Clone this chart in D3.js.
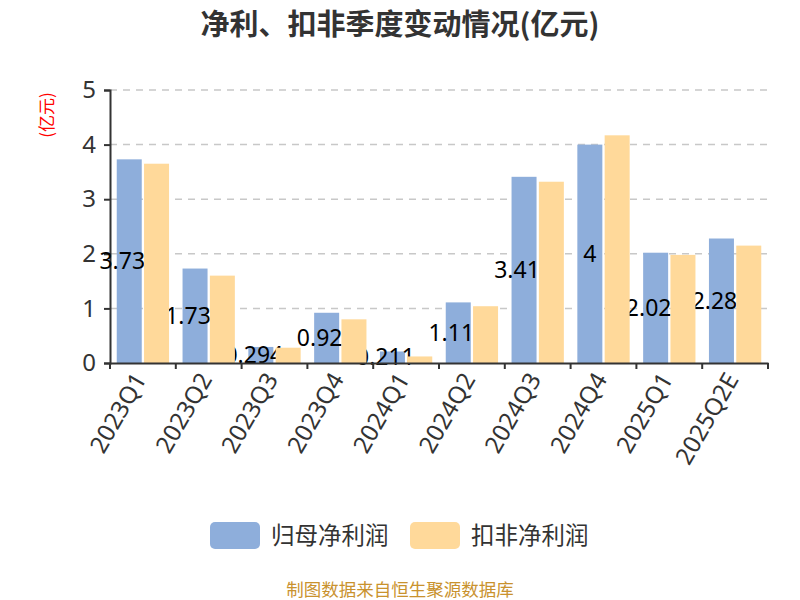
<!DOCTYPE html>
<html>
<head>
<meta charset="utf-8">
<script src="https://cdn.jsdelivr.net/npm/d3@7"></script>
<style>
  body { margin: 0; background: #fff; }
  svg { font-family: "Noto Sans CJK SC", "Noto Sans", sans-serif; }
</style>
</head>
<body>
<svg id="board" width="800" height="600"></svg>
<script>
let categories = ['2023Q1', '2023Q2', '2023Q3', '2023Q4', '2024Q1', '2024Q2', '2024Q3', '2024Q4', '2025Q1', '2025Q2E']
let netProfit = [3.73, 1.73, 0.294, 0.92, 0.211, 1.11, 3.41, 4, 2.02, 2.28]
let deducted = [3.65, 1.60, 0.28, 0.80, 0.12, 1.04, 3.32, 4.17, 1.98, 2.15]
let yTicks = [0, 1, 2, 3, 4, 5]
let seriesNames = ['归母净利润', '扣非净利润']
let colors = ['#8eaedb', '#ffd99a']

let board = d3.select('#board')

let plotLeft = 110, plotRight = 768, plotTop = 90, plotBottom = 363

let x = d3.scaleBand().domain(categories).range([plotLeft, plotRight])
let y = d3.scaleLinear().domain([0, 5]).range([plotBottom, plotTop])

let step = x.bandwidth()
let barW = step * 0.38
let gap = step * 0.035
let pad = (step - 2 * barW - gap) / 2

// title
board.append('text')
    .attr('x', 400).attr('y', 35)
    .attr('text-anchor', 'middle')
    .attr('font-size', 29).attr('font-weight', 'bold')
    .attr('fill', '#333')
    .text('净利、扣非季度变动情况(亿元)')

// unit
board.append('text')
    .attr('transform', 'translate(53,115) rotate(-90)')
    .attr('text-anchor', 'middle')
    .attr('font-size', 17)
    .attr('fill', 'red')
    .text('(亿元)')

// grid
board.append('g')
    .selectAll('line')
    .data(yTicks.filter(d => d > 0))
    .enter()
    .append('line')
    .attr('x1', plotLeft).attr('x2', plotRight)
    .attr('y1', d => y(d)).attr('y2', d => y(d))
    .attr('stroke', '#c8c8c8')
    .attr('stroke-width', 1.5)
    .attr('stroke-dasharray', '7,6')

// y axis
let yAxis = board.append('g')
    .attr('transform', `translate(${plotLeft},0)`)
    .call(d3.axisLeft(y).tickValues(yTicks).tickSize(6).tickPadding(8).tickFormat(d3.format('d')))
yAxis.select('.domain').attr('stroke', '#333').attr('stroke-width', 2)
yAxis.selectAll('.tick line').attr('stroke', '#333').attr('stroke-width', 2)
yAxis.selectAll('text').attr('font-size', 24).attr('fill', '#333')
    .attr('font-family', '"Noto Sans", sans-serif')

// blue bars
board.append('g')
    .selectAll('rect')
    .data(netProfit)
    .enter()
    .append('rect')
    .attr('x', (d, i) => x(categories[i]) + pad)
    .attr('y', d => y(d))
    .attr('width', barW)
    .attr('height', d => y(0) - y(d))
    .attr('fill', colors[0])

// labels of first series, orange bars go over them
board.append('g')
    .selectAll('text')
    .data(netProfit)
    .enter()
    .append('text')
    .attr('x', (d, i) => x(categories[i]) + pad + barW / 2 - (String(d).length > 1 ? 7 : 0))
    .attr('y', d => (y(d) + y(0)) / 2)
    .attr('dy', '0.35em')
    .attr('text-anchor', 'middle')
    .attr('font-size', 23)
    .attr('font-family', '"Noto Sans", sans-serif')
    .attr('fill', '#000')
    .text(d => d)

// orange bars
board.append('g')
    .selectAll('rect')
    .data(deducted)
    .enter()
    .append('rect')
    .attr('x', (d, i) => x(categories[i]) + pad + barW + gap)
    .attr('y', d => y(d))
    .attr('width', barW)
    .attr('height', d => y(0) - y(d))
    .attr('fill', colors[1])

// x axis
let xAxis = board.append('g')
    .attr('transform', `translate(0,${plotBottom})`)
    .call(d3.axisBottom(x).tickSize(0).tickFormat(''))
xAxis.select('.domain').attr('stroke', '#333').attr('stroke-width', 2)
board.append('g')
    .selectAll('line')
    .data(categories.concat(['end']))
    .enter()
    .append('line')
    .attr('x1', (d, i) => i < categories.length ? x(d) : plotRight)
    .attr('x2', (d, i) => i < categories.length ? x(d) : plotRight)
    .attr('y1', plotBottom).attr('y2', plotBottom + 6)
    .attr('stroke', '#333').attr('stroke-width', 2)

board.append('g')
    .selectAll('text')
    .data(categories)
    .enter()
    .append('text')
    .attr('transform', d => `translate(${x(d) + step / 2 - 3},${plotBottom + 12}) rotate(-60)`)
    .attr('text-anchor', 'end')
    .attr('dy', '0.35em')
    .attr('font-size', 24)
    .attr('font-family', '"Noto Sans", sans-serif')
    .attr('fill', '#333')
    .text(d => d)

// legend
let legend = board.append('g')
let legendX = [210, 410]
seriesNames.forEach((name, i) => {
    legend.append('rect')
        .attr('x', legendX[i]).attr('y', 522)
        .attr('width', 50).attr('height', 27)
        .attr('rx', 5)
        .attr('fill', colors[i])
    legend.append('text')
        .attr('x', legendX[i] + 61).attr('y', 536)
        .attr('dy', '0.35em')
        .attr('font-size', 23.5)
        .attr('fill', '#333')
        .text(name)
})

// source
board.append('text')
    .attr('x', 400).attr('y', 596)
    .attr('text-anchor', 'middle')
    .attr('font-size', 17.5)
    .attr('fill', '#c9922e')
    .text('制图数据来自恒生聚源数据库')
</script>
</body>
</html>
